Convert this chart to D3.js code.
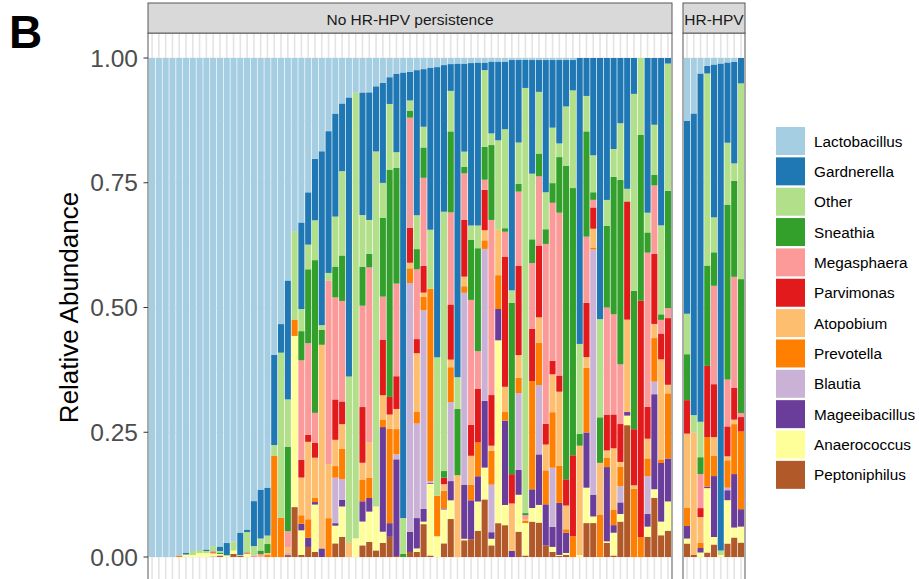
<!DOCTYPE html>
<html><head><meta charset="utf-8">
<script src="https://cdn.jsdelivr.net/npm/d3@7"></script>
<style>body{margin:0;background:#fff}svg{display:block;font-family:"Liberation Sans",Arial,Helvetica,sans-serif}</style>
</head><body><svg id="c" width="919" height="579"></svg>
<script>
// ---------- DATA ----------
const taxa = ["Lactobacillus","Gardnerella","Other","Sneathia","Megasphaera","Parvimonas","Atopobium","Prevotella","Blautia","Mageeibacillus","Anaerococcus","Peptoniphilus"];
const taxaColors = ["#A6CEE3","#1F78B4","#B2DF8A","#33A02C","#FB9A99","#E31A1C","#FDBF6F","#FF7F00","#CAB2D6","#6A3D9A","#FFFF99","#B15928"];
const panelNames = ["No HR-HPV persistence","HR-HPV"];
const panelCounts = [77, 9];
const yTicks = [0, 0.25, 0.5, 0.75, 1];
const yTickLabels = ["0.00","0.25","0.50","0.75","1.00"];

const lactobacillus = [1,1,1,1,.997,.992,.988,.986,.985,.978, .979,.972,.969,.951,.945,.888,.865,.861,.591,.530, .449,.347,.327,.267,.200,.185,.145,.110,.090,.078, .069,.068,.068,.056,.049,.038,.031,.029,.027,.024, .022,.019,.018,.014,.012,.011,.011,.010,.009,.009, .007,.007,.007,.004,.004,.004,.004,.004,.004,.004, .004,.004,.004,0,0,0,0,0,0,0, 0,0,0,0,0,0,0,
  .126,.111,.031,.016,.013,.011,.009,.008,0];
const gardnerella = [0,0,0,0,0,.003,0,0,.003,0, .009,.024,0,.045,.005,.090,.098,.096,.180,.057, .240,0,.172,.104,.122,.345,.281,.204,.134,.552, 0,.242,.253,.129,.198,.053,.156,.893,.057,.287, .114,.321,.574,.290,.053,.621,.174,.321,.323,.015, .142,.156,.134,.456,.163,.056,.225,.063,.261,.134, .165,.092,.060,.565,.075,.192,.516,.281,.180,.129, .259,.071,0,.306,.132,.331,.011,
  .386,.604,.698,.015,.306,.976,.161,.203,.051];
const other = [0,0,0,0,0,0,.008,.006,.004,.011, .003,.002,.018,.002,.041,.019,.024,.017,.021,.329, .096,.177,.044,.049,.079,.009,.015,.099,.167,.329, .883,.102,.067,.703,.069,.130,.031,.072,.020,.067, .041,.117,.274,.513,.080,.063,.030,.028,.045,.152, .023,.177,.196,.025,.082,.852,.130,.122,.073,.110, .027,.118,.193,.178,.070,.073,.194,.051,.055,.112, .025,.390,.154,.039,.099,.176,.252,
  .081,.035,.071,.385,.070,.009,.124,.035,.393];
const sneathia = [0,0,0,0,0,0,0,0,0,0, .003,0,0,0,0,0,.007,.018,0,0, .170,0,.058,.147,.303,.030,0,.061,.090,0, 0,.077,.027,0,.156,.450,.230,.006,.014,.040, .060,0,0,.013,.160,.131,.013,.119,.204,.065, .148,0,.007,.339,.015,.004,.047,.045,.029,.039, .110,.621,.528,.023,.208,.015,.090,.162,.272,.365, 0,.274,.333,.040,.021,.011,.232,
  .092,0,.034,.201,.067,0,.351,.192,.269];
const megasphaera = [0,0,0,0,0,0,0,0,0,0, 0,0,0,0,0,.003,.004,0,0,0, .032,0,.198,.182,.059,0,.364,.202,.199,0, 0,.200,.347,0,.085,0,.184,0,.218,.138, .174,0,0,0,.182,0,.092,.247,.075,.020, .346,0,.050,0,.147,.008,.130,.137,.355,.313, .322,0,0,0,.131,.015,0,.212,.198,.118, 0,0,0,.305,.135,.027,.020,
  0,0,.068,0,.197,0,.094,.222,.008];
const parvimonas = [0,0,0,0,0,0,0,0,0,.002, 0,0,0,0,.002,0,0,0,0,0, 0,0,.035,.014,.030,0,0,.080,.045,0, 0,.110,0,0,.110,.035,.065,0,.069,.028, .053,0,0,.013,.109,0,.112,.061,.106,.080, .100,0,.257,.058,.176,0,.104,.142,.041,.027, .032,.052,.160,0,.107,.042,0,.071,.067,.075, .234,.111,.474,.063,.139,.051,.132,
  .067,0,.018,.143,.106,0,.060,.064,.029];
const atopobium = [0,0,0,0,0,0,0,0,0,.003, 0,0,0,0,0,0,.002,.003,0,0, .012,0,.075,.154,.080,.404,.107,.052,.049,.028, 0,.033,.070,0,.048,.028,.040,0,.011,.116, .008,0,0,.013,.015,.162,.019,.057,0,.020, .010,.090,.050,.094,.045,.003,0,.050,.051,.075, .147,.047,0,.216,.021,.038,.102,.015,.122,.009, .183,.007,0,.039,.028,.198,.017,
  .148,.245,.051,0,.037,0,.008,.009,0];
const prevotella = [0,0,0,0,.003,0,0,0,0,0, 0,0,0,0,0,0,0,.005,.202,.078, 0,.033,.017,.037,.008,0,.077,.023,.060,0, 0,.043,.040,0,.015,.187,.050,0,.029,.023, .027,.381,.080,.035,.069,0,.013,.031,.067,.017, .067,.067,.017,0,.030,.005,.214,.084,.067,.110, .073,.007,.041,0,.128,.003,.084,.018,.030,.039, 0,.135,.040,.035,.086,.007,.129,
  .037,0,.011,.099,.041,0,.055,.100,.156];
const blautia = [0,0,0,0,0,0,0,0,0,0, 0,0,0,0,0,0,0,0,0,0, .004,0,0,0,0,0,0,.090,.041,0, 0,0,0,0,0,0,.010,0,.492,.187, .393,.003,0,0,.156,0,.379,0,0,.301, .094,0,0,0,.152,0,0,.137,0,.117, 0,0,0,0,0,.484,0,0,0,.032, 0,0,0,.075,.025,0,0,
  0,0,0,0,0,0,.005,0,0];
const mageeibacillus = [0,0,0,0,0,0,0,0,0,0, 0,0,0,0,0,0,0,0,0,0, 0,0,.013,.018,.005,.017,0,.005,.013,0, 0,.040,.027,0,.207,.027,.192,0,.040,.060, .025,.002,0,.002,.038,0,.107,.077,.050,.132, .013,.062,.167,.012,.049,0,.037,.100,.081,.040, .103,.040,0,0,.109,.043,0,.147,.015,.023, .007,0,0,.025,.188,.116,.085,
  .025,0,.009,.003,.122,0,.020,.107,.035];
const anaerococcus = [0,0,0,0,0,.005,.004,.008,.008,.005, .003,.002,.007,0,.007,0,0,0,0,0, 0,.343,.049,0,.094,0,0,.035,.060,0, .037,.047,.060,.087,.022,0,0,0,0,.007, .005,.142,.041,.067,.037,0,.003,0,.058,.063, .013,.362,.040,0,.073,.065,.027,.035,0,.010, .002,.004,0,.004,.070,.013,0,.003,.045,.015, .019,0,0,.020,.017,.027,.058,
  .010,0,.009,.129,.015,.004,.087,.020,.032];
const peptoniphilus = [0,0,0,0,0,0,0,0,0,.001, .003,0,.006,.002,0,0,0,0,0,0, .004,.100,.004,.020,.010,0,0,.027,.040,0, 0,.023,.030,.013,.028,.040,.002,0,.010,.010, .065,.003,0,.027,.075,0,.033,.035,.052,.114, .023,.067,.063,0,.050,.003,.070,.068,.023,.010, .002,.004,0,0,.067,.067,0,.028,.003,.070, .261,0,0,.040,.117,.043,.052,
  .027,.004,0,.009,.025,0,.027,.039,.029];

const seriesValues = [lactobacillus,gardnerella,other,sneathia,megasphaera,parvimonas,atopobium,prevotella,blautia,mageeibacillus,anaerococcus,peptoniphilus];

// ---------- BUILD ROWS ----------
const rows = [];
let idx = 0;
panelCounts.forEach((n, p) => {
  for (let k = 0; k < n; k++, idx++) {
    const r = {id: "S" + (idx + 1), panel: p};
    let tot = 0;
    taxa.forEach((t, j) => { tot += seriesValues[j][idx]; });
    taxa.forEach((t, j) => { r[t] = seriesValues[j][idx] / tot; });
    rows.push(r);
  }
});

// ---------- LAYOUT ----------
const svg = d3.select("#c");
svg.append("rect").attr("width", 919).attr("height", 579).attr("fill", "#fff");
const y = d3.scaleLinear().domain([0, 1]).range([557, 58]);
const panelTop = y(1.05), panelBottom = y(-0.05);
const panelX = [[148, 672], [683, 745]];
const color = d3.scaleOrdinal().domain(taxa).range(taxaColors);
const stack = d3.stack().keys(taxa.slice().reverse());

panelNames.forEach((name, p) => {
  const data = rows.filter(r => r.panel === p);
  const [x0, x1] = panelX[p];
  const x = d3.scaleBand().domain(data.map(d => d.id)).range([x0, x1]).paddingInner(0.1).paddingOuter(0.15);
  const g = svg.append("g");
  g.append("clipPath").attr("id", "clip" + p).append("rect")
    .attr("x", x0).attr("y", panelTop).attr("width", x1 - x0).attr("height", panelBottom - panelTop);
  const grid = g.append("g").attr("clip-path", `url(#clip${p})`);
  grid.selectAll("line.h").data(d3.range(0, 1.0001, 0.125)).join("line")
    .attr("x1", x0).attr("x2", x1).attr("y1", d => y(d)).attr("y2", d => y(d))
    .attr("stroke", "#EBEBEB").attr("stroke-width", (d, i) => i % 2 ? 0.6 : 1.1);
  grid.selectAll("line.v").data(data).join("line")
    .attr("x1", d => x(d.id) + x.bandwidth() / 2).attr("x2", d => x(d.id) + x.bandwidth() / 2)
    .attr("y1", panelTop).attr("y2", panelBottom)
    .attr("stroke", "#E4E4E4").attr("stroke-width", 1.6);
  const series = stack(data);
  const bars = g.append("g").attr("clip-path", `url(#clip${p})`);
  bars.selectAll("g").data(series).join("g").attr("fill", s => color(s.key))
    .selectAll("rect").data(s => s).join("rect")
    .attr("x", d => x(d.data.id)).attr("width", x.bandwidth())
    .attr("y", d => y(d[1])).attr("height", d => Math.max(0, y(d[0]) - y(d[1])));
  g.append("rect").attr("x", x0).attr("y", panelTop).attr("width", x1 - x0).attr("height", panelBottom - panelTop)
    .attr("fill", "none").attr("stroke", "#595959").attr("stroke-width", 1);
  g.append("rect").attr("x", x0).attr("y", 3).attr("width", x1 - x0).attr("height", panelTop - 3)
    .attr("fill", "#D9D9D9").attr("stroke", "#595959").attr("stroke-width", 1);
  g.append("text").attr("x", (x0 + x1) / 2).attr("y", (3 + panelTop) / 2 + 1)
    .attr("text-anchor", "middle").attr("dominant-baseline", "central")
    .attr("font-size", 15.5).attr("fill", "#1A1A1A").text(name);
});

// y axis
const ax = svg.append("g");
ax.selectAll("line").data(yTicks).join("line")
  .attr("x1", 143.5).attr("x2", 148).attr("y1", d => y(d)).attr("y2", d => y(d))
  .attr("stroke", "#333").attr("stroke-width", 1);
ax.selectAll("text").data(yTicks).join("text")
  .attr("x", 138).attr("y", d => y(d)).attr("text-anchor", "end").attr("dominant-baseline", "central")
  .attr("font-size", 24.5).attr("fill", "#4D4D4D").text((d, i) => yTickLabels[i]);
svg.append("text").attr("transform", `translate(78,${y(0.5)}) rotate(-90)`)
  .attr("text-anchor", "middle").attr("font-size", 26).attr("fill", "#000").text("Relative Abundance");

// panel label
svg.append("text").attr("x", 9).attr("y", 48).attr("font-size", 46).attr("font-weight", "bold").text("B");

// legend
const lg = svg.append("g");
const lgItems = lg.selectAll("g").data(taxa).join("g")
  .attr("transform", (d, i) => `translate(776,${127 + i * 30.35})`);
lgItems.append("rect").attr("width", 29).attr("height", 28).attr("fill", d => color(d));
lgItems.append("text").attr("x", 38).attr("y", 14).attr("dominant-baseline", "central")
  .attr("font-size", 15.3).attr("fill", "#000").text(d => d);
</script></body></html>
